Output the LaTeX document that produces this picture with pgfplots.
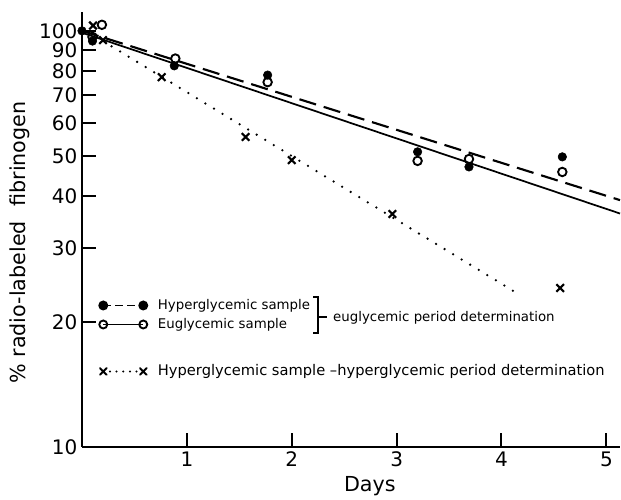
\documentclass[border=0pt]{standalone}
\usepackage{pgfplots}
\pgfplotsset{compat=1.18}
\usepackage{fontspec}
\setmainfont{DejaVu Sans}

\begin{document}
\begin{tikzpicture}
\begin{axis}[
    name=ax,
    scale only axis,
    width=403.5pt, height=326.25pt,
    ymode=log,
    xmin=0, xmax=5.13,
    ymin=10, ymax=111,
    clip=false,
    axis x line=bottom, axis y line=left,
    axis line style={-, line width=1.5pt},
    xtick={1,2,3,4,5}, xticklabels={1,2,3,4,5},
    ytick={10,20,30,40,50,60,70,80,90,100},
    yticklabels={10,20,30,40,50,60,70,80,90,100},
    minor y tick num=0,
    tick align=inside,
    major tick length=10.5pt,
    tick style={line width=1.5pt, black},
    tick label style={font=\fontsize{15}{17}\selectfont},
    label style={font=\fontsize{15.5}{18}\selectfont},
    xlabel={Days},
    xlabel style={at={(ticklabel cs:0.535)}},
    ylabel={\% radio-labeled\hspace{0.7em}fibrinogen},
    ylabel style={at={(ticklabel cs:0.47)}, font=\fontsize{15.5}{18}\selectfont},
    legend style={at={(rel axis cs:0.0316,0.342)}, anchor=north west,
        draw=none, fill=none, inner sep=0pt, row sep=3.75pt, column sep=8pt,
        font=\fontsize{10}{12}\selectfont,
        nodes={inner sep=0pt, text height=8pt, text depth=2.5pt}},
    legend cell align=left,
    legend image code/.code={
        \draw[mark repeat=1,mark phase=1,#1] plot coordinates {(0pt,0pt) (30pt,0pt)};
    },
]
% legend entries
\addlegendimage{black, line width=1.4pt, dash pattern=on 6pt off 3pt, mark=*, mark size=3pt, mark options={solid}}
\addlegendentry{Hyperglycemic sample}
\addlegendimage{black, line width=1.3pt, mark=o, mark size=3pt, mark options={solid, line width=1.4pt, fill=white}}
\addlegendentry{Euglycemic sample}
\addlegendimage{empty legend}
\addlegendentry[text depth=9.25pt]{}
\addlegendimage{black, line width=1.7pt, dash pattern=on 0pt off 5pt, line cap=round, mark=x, mark size=3.5pt, mark options={solid, line width=1.5pt}}
\addlegendentry[font=\fontsize{11}{13}\selectfont]{Hyperglycemic sample \textendash{}hyperglycemic period determination}

% fitted lines
\addplot[black, line width=1.6pt, dash pattern=on 13pt off 6pt, forget plot] coordinates {(0,100) (5.13,39.2)};
\addplot[black, line width=1.3pt, forget plot] coordinates {(0,99) (5.13,36.4)};
\addplot[black, line width=1.9pt, dash pattern=on 0pt off 7.5pt, line cap=round, forget plot] coordinates {(0.2,94.5) (4.15,23.4)};

% hyperglycemic sample, euglycemic period
\addplot[only marks, mark=*, mark size=3.2pt, black, forget plot] coordinates {
    (0,100) (0.10,94.5) (0.88,82.4) (1.77,78.3) (3.20,51.2) (3.69,47.1) (4.58,49.8)
};
% euglycemic sample
\addplot[only marks, mark=o, mark size=3.2pt, line width=1.4pt, black, mark options={fill=white}, forget plot] coordinates {
    (0.10,96.7) (0.19,103.4) (0.89,85.8) (1.77,75.3) (3.20,48.7) (3.69,49.2) (4.58,45.8)
};
% hyperglycemic sample, hyperglycemic period
\addplot[only marks, mark=x, mark size=4pt, line width=1.6pt, black, forget plot] coordinates {
    (0.105,103) (0.2,95) (0.76,77.4) (1.56,55.6) (2.0,48.9) (2.96,36.3) (4.56,24.1)
};

% bracket
\draw[line width=1.3pt] (rel axis cs:0.4294,0.3448) -- (rel axis cs:0.4387,0.3448)
    -- (rel axis cs:0.4387,0.2621) -- (rel axis cs:0.4294,0.2621);
\draw[line width=1.3pt] (rel axis cs:0.4387,0.2989) -- (rel axis cs:0.4554,0.2989);
\node[anchor=west, inner sep=0pt, font=\fontsize{10}{12}\selectfont]
    at (rel axis cs:0.4665,0.2966) {euglycemic period determination};
\end{axis}
\pgfresetboundingbox
\path[use as bounding box] ([xshift=-61.5pt,yshift=-39.75pt]ax.south west)
    rectangle ([xshift=0.75pt,yshift=9pt]ax.north east);
\end{tikzpicture}
\end{document}
